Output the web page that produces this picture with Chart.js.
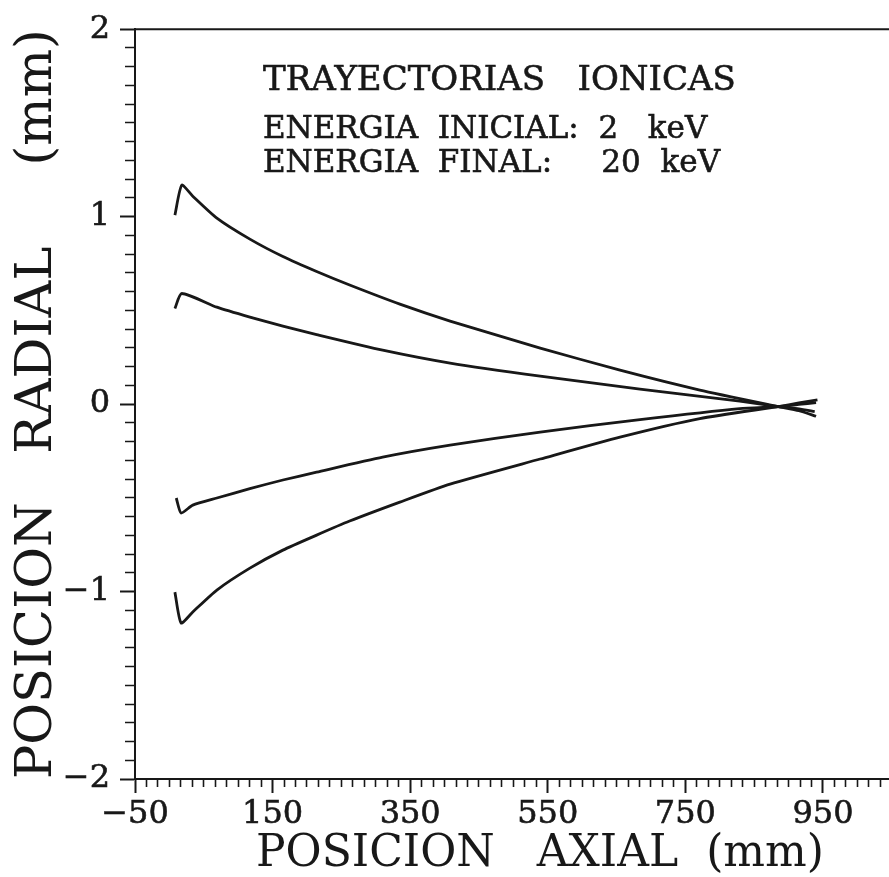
<!DOCTYPE html>
<html>
<head>
<meta charset="utf-8">
<title>Trayectorias ionicas</title>
<script src="https://cdn.jsdelivr.net/npm/chart.js@4.4.1/dist/chart.umd.min.js"></script>
<style>
  html, body { margin: 0; padding: 0; background: #fff; }
</style>
</head>
<body>
<canvas id="graficaTrayectorias" width="889" height="877"></canvas>
<script>
// Marcas principales de los ejes y subdivisiones entre ellas
var xMayores = [-50, 150, 350, 550, 750, 950];
var xSubdiv = 12;
var yMayores = [-2, -1, 0, 1, 2];
var ySubdiv = 10;

// Trayectoria 1 (exterior superior)
var axial1  = [8, 18, 34, 69, 117, 165, 214, 262, 335, 408, 539, 655, 771, 885, 915, 940];
var radial1 = [1.008, 1.168, 1.109, 0.992, 0.88, 0.787, 0.707, 0.635, 0.533, 0.443, 0.299, 0.181, 0.075, -0.013, -0.035, -0.065];

// Trayectoria 2 (interior superior)
var axial2  = [8, 18, 69, 117, 165, 214, 310, 408, 539, 684, 829, 885, 915, 938];
var radial2 = [0.51, 0.59, 0.517, 0.464, 0.416, 0.371, 0.288, 0.219, 0.149, 0.08, 0.016, -0.013, -0.025, -0.04];

// Trayectoria 3 (interior inferior)
var axial3  = [10, 17, 34, 69, 117, 165, 214, 310, 408, 539, 684, 829, 885, 915, 940];
var radial3 = [-0.501, -0.581, -0.539, -0.501, -0.451, -0.405, -0.363, -0.283, -0.219, -0.149, -0.083, -0.024, -0.013, -0.002, 0.008];

// Trayectoria 4 (exterior inferior)
var axial4  = [8, 17, 34, 69, 117, 165, 214, 262, 335, 408, 539, 655, 771, 885, 915, 942];
var radial4 = [-1.003, -1.168, -1.109, -0.992, -0.875, -0.779, -0.699, -0.624, -0.523, -0.427, -0.293, -0.176, -0.077, -0.013, 0.006, 0.022];

var textoTitulo = 'TRAYECTORIAS   IONICAS';
var textoInicial = 'ENERGIA  INICIAL:  2   keV';
var textoFinal = 'ENERGIA  FINAL:     20  keV';

var tinta = '#181818';
var fuente = '"DejaVu Serif", "Liberation Serif", serif';

function generarMarcas(mayores, subdiv, maximo) {
    var paso = (mayores[1] - mayores[0]) / subdiv;
    var marcas = [];
    for (var k = 0; mayores[0] + k * paso <= maximo + 1e-9; k++) {
        marcas.push(mayores[0] + k * paso);
    }
    return marcas;
}

function esMayor(valor, mayores) {
    return mayores.some(function (m) { return Math.abs(m - valor) < 1e-6; });
}

function serie(xs, ys) {
    return xs.map(function (x, i) { return { x: x, y: ys[i] }; });
}

function etiqueta(v) {
    var n = Math.round(v);
    return n < 0 ? '\u2212' + Math.abs(n) : String(n);
}

var xMax = 1046;
var marcasX = generarMarcas(xMayores, xSubdiv, xMax);
var marcasY = generarMarcas(yMayores, ySubdiv, 2);

// Marco superior y textos dentro del area de la grafica
var marcoYTextos = {
    id: 'marcoYTextos',
    afterDraw: function (chart) {
        var ctx = chart.ctx, area = chart.chartArea;
        var sx = chart.scales.x, sy = chart.scales.y;
        ctx.save();
        ctx.strokeStyle = tinta;
        ctx.lineWidth = 2;
        ctx.beginPath();
        ctx.moveTo(area.left, area.top);
        ctx.lineTo(area.right, area.top);
        ctx.stroke();

        ctx.fillStyle = tinta;
        ctx.strokeStyle = tinta;
        ctx.lineWidth = 0.6;
        ctx.textAlign = 'left';
        ctx.textBaseline = 'alphabetic';
        var x0 = sx.getPixelForValue(136);
        var lineas = [
            [textoTitulo, 34, 1.675],
            [textoInicial, 31, 1.419],
            [textoFinal, 31, 1.237]
        ];
        lineas.forEach(function (l) {
            ctx.font = l[1] + 'px ' + fuente;
            ctx.fillText(l[0], x0, sy.getPixelForValue(l[2]));
            ctx.strokeText(l[0], x0, sy.getPixelForValue(l[2]));
        });
        ctx.restore();
    }
};

var estiloLinea = {
    borderColor: tinta,
    borderWidth: 2.8,
    pointRadius: 0,
    fill: false,
    tension: 0.2
};

var ctx = document.getElementById('graficaTrayectorias').getContext('2d');

var grafica = new Chart(ctx, {
    type: 'line',
    data: {
        datasets: [
            Object.assign({ label: 'T1', data: serie(axial1, radial1) }, estiloLinea),
            Object.assign({ label: 'T2', data: serie(axial2, radial2) }, estiloLinea),
            Object.assign({ label: 'T3', data: serie(axial3, radial3) }, estiloLinea),
            Object.assign({ label: 'T4', data: serie(axial4, radial4) }, estiloLinea)
        ]
    },
    plugins: [marcoYTextos],
    options: {
        responsive: false,
        animation: false,
        devicePixelRatio: 1,
        layout: { padding: { top: 29, right: 0, bottom: 0, left: 0 } },
        plugins: {
            legend: { display: false },
            tooltip: { enabled: false }
        },
        scales: {
            x: {
                type: 'linear',
                position: 'bottom',
                min: -50,
                max: xMax,
                afterBuildTicks: function (s) { s.ticks = marcasX.map(function (v) { return { value: v }; }); },
                afterFit: function (s) { s.height = 98; },
                border: { display: true, color: tinta, width: 2 },
                grid: {
                    drawOnChartArea: false,
                    drawTicks: true,
                    tickLength: 14,
                    tickColor: tinta,
                    tickWidth: function (c) { return esMayor(c.tick.value, xMayores) ? 2 : 1.6; },
                    tickBorderDash: function (c) { return esMayor(c.tick.value, xMayores) ? [] : [7, 100]; }
                },
                ticks: {
                    autoSkip: false,
                    maxRotation: 0,
                    padding: 2,
                    color: tinta,
                    textStrokeColor: tinta,
                    textStrokeWidth: 0.6,
                    font: { family: fuente, size: 32 },
                    callback: function (v) { return esMayor(v, xMayores) ? etiqueta(v) : ''; }
                },
                title: {
                    display: true,
                    text: '    POSICION   AXIAL  (mm)',
                    color: tinta,
                    font: { family: fuente, size: 44, lineHeight: 1 },
                    padding: { top: 0, bottom: 0 }
                }
            },
            y: {
                type: 'linear',
                position: 'left',
                min: -2,
                max: 2,
                afterBuildTicks: function (s) { s.ticks = marcasY.map(function (v) { return { value: v }; }); },
                afterFit: function (s) { s.width = 135; },
                border: { display: true, color: tinta, width: 2 },
                grid: {
                    drawOnChartArea: false,
                    drawTicks: true,
                    tickLength: 15,
                    tickColor: tinta,
                    tickWidth: function (c) { return esMayor(c.tick.value, yMayores) ? 2 : 1.6; },
                    tickBorderDash: function (c) { return esMayor(c.tick.value, yMayores) ? [] : [0, 5, 10, 100]; }
                },
                ticks: {
                    autoSkip: false,
                    padding: 10,
                    color: tinta,
                    textStrokeColor: tinta,
                    textStrokeWidth: 0.6,
                    font: { family: fuente, size: 32 },
                    callback: function (v) { return esMayor(v, yMayores) ? etiqueta(v) : ''; }
                },
                title: {
                    display: true,
                    text: 'POSICION   RADIAL     (mm)',
                    color: tinta,
                    font: { family: fuente, size: 51, lineHeight: 1 },
                    padding: { top: 12, bottom: 0 }
                }
            }
        }
    }
});
</script>
</body>
</html>
